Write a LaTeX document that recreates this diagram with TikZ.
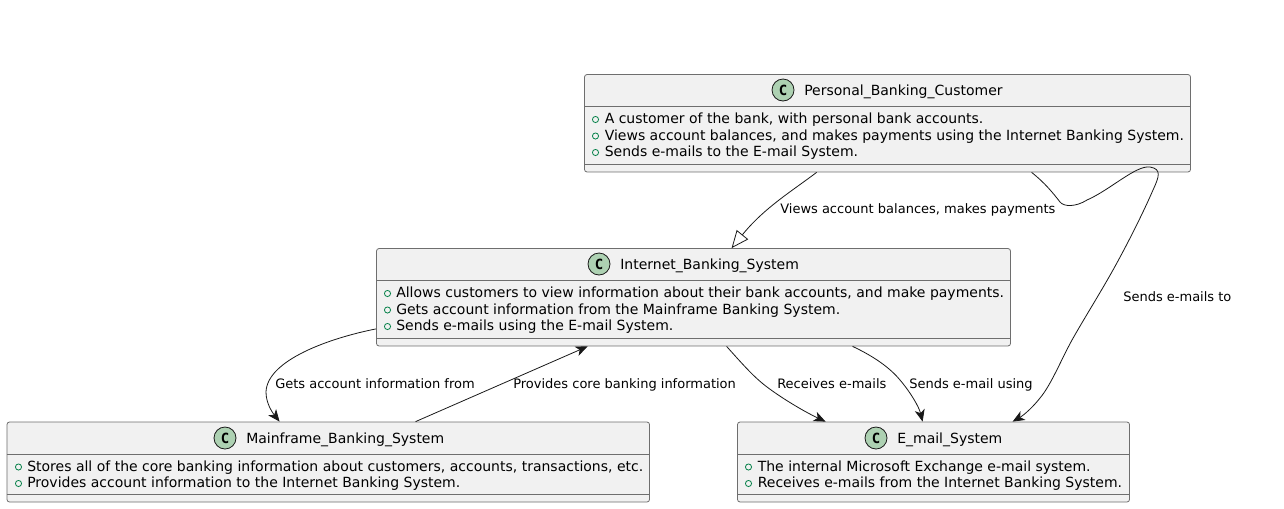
\documentclass[tikz,border=0pt]{standalone}
\usepackage{fontspec}
\setmainfont{DejaVu Sans}
\setmonofont{DejaVu Sans Mono}
\usetikzlibrary{arrows.meta,calc}
\definecolor{boxfill}{HTML}{F1F1F1}
\definecolor{boxline}{HTML}{6E6E6E}
\definecolor{iconfill}{HTML}{ADD1B2}
\definecolor{pubgreen}{HTML}{038048}
\definecolor{edgeline}{HTML}{181818}
\begin{document}
\begin{tikzpicture}[x=0.75pt,y=-0.75pt,
classbox/.style={shape=rectangle,draw=boxline,fill=boxfill,line width=0.6pt,rounded corners=1.9pt,inner sep=0pt},
classicon/.style={shape=circle,draw=edgeline,fill=iconfill,line width=0.6pt,minimum size=16.5pt,inner sep=0pt,font=\fontsize{10.5}{10.5}\ttfamily\bfseries},
classname/.style={anchor=base west,inner sep=0pt,font=\fontsize{10.5}{12}\selectfont},
member/.style={anchor=base west,inner sep=0pt,font=\fontsize{10.5}{12}\selectfont},
bullet/.style={shape=circle,draw=pubgreen,line width=0.6pt,minimum size=4.6pt,inner sep=0pt},
divider/.style={draw=boxline,line width=0.6pt},
edgelabel/.style={anchor=base west,inner sep=0pt,font=\fontsize{9.75}{12}\selectfont},
link/.style={draw=edgeline,line width=0.6pt,-{Stealth[length=9pt,width=7.5pt,inset=2.5pt]}},
extends/.style={draw=edgeline,line width=0.6pt,-{Triangle[open,length=13pt,width=11pt]}}]
\useasboundingbox (0,0) rectangle (1284,508);

\node[classbox,minimum width=454.5pt,minimum height=73.1pt] (Customer) at (887.5,123.25) {};
\draw[divider] (Customer.west |- 0,106.5) -- (Customer.east |- 0,106.5);
\draw[divider] (Customer.west |- 0,164) -- (Customer.east |- 0,164);
\node[classicon] (CustomerIcon) at (783,90) {C};
\node[classname] (CustomerName) at (804,95) {Personal\_Banking\_Customer};
\foreach \y/\txt/\nm in {123.5/{A customer of the bank, with personal bank accounts.}/a,
  140/{Views account balances, and makes payments using the Internet Banking System.}/b,
  156.5/{Sends e-mails to the E-mail System.}/c}{
  \node[member] (Customer\nm) at (604.5,\y) {\txt};
  \node[bullet] (CustomerDot\nm) at (595.5,\y-4) {};
}

\node[classbox,minimum width=475.5pt,minimum height=73.1pt] (Internet) at (693.5,297.25) {};
\draw[divider] (Internet.west |- 0,280.5) -- (Internet.east |- 0,280.5);
\draw[divider] (Internet.west |- 0,338) -- (Internet.east |- 0,338);
\node[classicon] (InternetIcon) at (599,264) {C};
\node[classname] (InternetName) at (620,269) {Internet\_Banking\_System};
\foreach \y/\txt/\nm in {297.5/{Allows customers to view information about their bank accounts, and make payments.}/a,
  314/{Gets account information from the Mainframe Banking System.}/b,
  330.5/{Sends e-mails using the E-mail System.}/c}{
  \node[member] (Internet\nm) at (396,\y) {\txt};
  \node[bullet] (InternetDot\nm) at (387.5,\y-4) {};
}

\node[classbox,minimum width=481.9pt,minimum height=60pt] (Mainframe) at (328.25,462) {};
\draw[divider] (Mainframe.west |- 0,454) -- (Mainframe.east |- 0,454);
\draw[divider] (Mainframe.west |- 0,494) -- (Mainframe.east |- 0,494);
\node[classicon] (MainframeIcon) at (225,438) {C};
\node[classname] (MainframeName) at (246,443) {Mainframe\_Banking\_System};
\foreach \y/\txt/\nm in {471/{Stores all of the core banking information about customers, accounts, transactions, etc.}/a,
  487.5/{Provides account information to the Internet Banking System.}/b}{
  \node[member] (Mainframe\nm) at (27,\y) {\txt};
  \node[bullet] (MainframeDot\nm) at (18.5,\y-4) {};
}

\node[classbox,minimum width=294pt,minimum height=60pt] (Email) at (933.5,462) {};
\draw[divider] (Email.west |- 0,454) -- (Email.east |- 0,454);
\draw[divider] (Email.west |- 0,494) -- (Email.east |- 0,494);
\node[classicon] (EmailIcon) at (876,438) {C};
\node[classname] (EmailName) at (897,443) {E\_mail\_System};
\foreach \y/\txt/\nm in {471/{The internal Microsoft Exchange e-mail system.}/a,
  487.5/{Receives e-mails from the Internet Banking System.}/b}{
  \node[member] (Email\nm) at (757.5,\y) {\txt};
  \node[bullet] (EmailDot\nm) at (748.5,\y-4) {};
}

% links
\draw[extends] ($(Customer.south west)+(232.5,0)$) .. controls (792,191) and (764,208) .. ($(Internet.north west)+(355.5,0)$);
\draw[link] ($(Customer.south west)+(447.5,0)$) .. controls (1045,183) and (1053,193) .. (1060,202)
  .. controls (1064,207) and (1076,207) .. (1087,200)
  .. controls (1110,190) and (1136,165) .. (1150,167)
  .. controls (1162,169) and (1159,177) .. (1153,190)
  .. controls (1143,213) and (1128,243) .. (1113,270)
  .. controls (1099,295) and (1085,317) .. (1072,340)
  .. controls (1061,360) and (1051,385) .. (1040,398)
  .. controls (1033,407) and (1024,415) .. ($(Email.north west)+(275.5,0)$);
\draw[link] ($(Internet.south west)+(0,-17.5)$) .. controls (330,338) and (267,360) .. (266,392)
  .. controls (266,403) and (272,412) .. ($(Mainframe.north west)+(273,0)$);
\draw[link] ($(Mainframe.north west)+(409,0)$) -- ($(Internet.south west)+(211.5,0)$);
\draw[link] ($(Internet.south west)+(350.5,0)$) .. controls (745,367) and (755,378) .. (767,387)
  .. controls (783,399) and (805,412) .. ($(Email.north west)+(88.5,0)$);
\draw[link] ($(Internet.south west)+(476.5,0)$) .. controls (875,357) and (890,368) .. (900,380)
  .. controls (911,393) and (919,407) .. ($(Email.north west)+(185.5,0)$);

% labels
\node[edgelabel] (lblViews) at (780,213.5) {Views account balances, makes payments};
\node[edgelabel] (lblSends) at (1123,301.5) {Sends e-mails to};
\node[edgelabel] (lblGets) at (275,388.5) {Gets account information from};
\node[edgelabel] (lblProvides) at (513,388.5) {Provides core banking information};
\node[edgelabel] (lblReceives) at (777,388.5) {Receives e-mails};
\node[edgelabel] (lblUsing) at (909,388.5) {Sends e-mail using};
\end{tikzpicture}
\end{document}
